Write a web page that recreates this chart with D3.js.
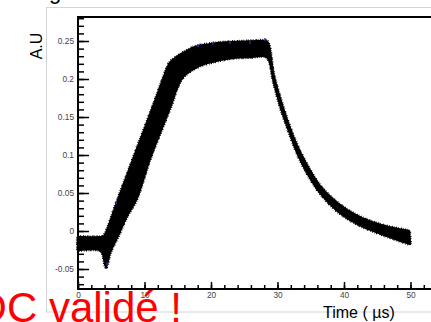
<!DOCTYPE html>
<html><head><meta charset="utf-8">
<script src="https://cdn.jsdelivr.net/npm/d3@7"></script>
<style>html,body{margin:0;padding:0;background:#fff;overflow:hidden}</style>
</head><body>
<svg id="c" width="431" height="322"></svg>
<script>
// Upper envelope of the recorded signal band (time in µs, amplitude in A.U)
const upperT = [0, 3.61, 3.91, 6.02, 8.72, 11.58, 12.78, 13.83, 14.89, 15.79, 17.59, 20.90, 24.81, 28.12, 28.42, 28.72, 29.32, 30.38, 31.58, 32.93, 34.44, 36.39, 38.95, 41.95, 45.86, 49.77];
const upperV = [-0.008, -0.008, -0.007, 0.041, 0.104, 0.170, 0.199, 0.221, 0.229, 0.234, 0.242, 0.247, 0.249, 0.250, 0.249, 0.243, 0.208, 0.174, 0.142, 0.112, 0.086, 0.059, 0.037, 0.020, 0.007, 0.000];
// Lower envelope of the band
const lowerT = [0, 3.31, 3.76, 4.21, 4.66, 4.96, 6.17, 7.22, 8.72, 10.83, 13.98, 14.89, 15.79, 17.89, 19.85, 23.31, 25.86, 28.42, 29.47, 30.53, 31.73, 33.08, 34.59, 36.54, 39.10, 42.11, 46.02, 49.92];
const lowerV = [-0.025, -0.025, -0.030, -0.047, -0.032, -0.025, -0.003, 0.018, 0.041, 0.096, 0.166, 0.189, 0.203, 0.216, 0.222, 0.228, 0.229, 0.229, 0.196, 0.162, 0.132, 0.101, 0.075, 0.049, 0.026, 0.009, -0.005, -0.017];
// isolated blue samples visible on the band edges
const blueT = [18.05, 20.30, 22.86, 25.86, 28.12, 4.36, 5.75];
const blueV = [0.244, 0.247, 0.248, 0.248, 0.252, -0.043, 0.037];
const xTicks = [0, 10, 20, 30, 40, 50];
const xTickLabels = ["0", "10", "20", "30", "40", "50"];
const yTicks = [-0.05, 0, 0.05, 0.1, 0.15, 0.2, 0.25];
const yTickLabels = ["-0.05", "0", "0.05", "0.1", "0.15", "0.2", "0.25"];

const FONT = "Liberation Sans, Arial, sans-serif";
const svg = d3.select("#c");
const x = d3.scaleLinear().domain([0, 56]).range([78, 78 + 56 * 6.65]);
const y = d3.scaleLinear().domain([-0.0763, 0.2816]).range([289, 17]);

// canvas border (light grey)
svg.append("rect").attr("x", 46.5).attr("y", 7.5).attr("width", 420).attr("height", 304.5)
  .attr("fill", "none").attr("stroke", "#d4d4d4").attr("stroke-width", 1);

// fragment of text above
svg.append("text").attr("x", 49).attr("y", -1).attr("font-family", FONT)
  .attr("font-size", 22).attr("fill", "#000").text("g");

// trace band
const upPts = upperT.map((t, i) => [t, upperV[i]]);
const loPts = lowerT.map((t, i) => [t, lowerV[i]]).reverse();
const line = d3.line().x(d => x(d[0])).y(d => y(d[1])).curve(d3.curveCatmullRom.alpha(0.5));
const bandD = line(upPts) + line(loPts).replace(/^M/, "L") + "Z";
svg.append("path").attr("d", bandD).attr("fill", "#000").attr("stroke", "#000")
  .attr("stroke-width", 2.5).attr("stroke-linejoin", "round");
// noisy edge
svg.append("path").attr("d", bandD).attr("fill", "none").attr("stroke", "#000")
  .attr("stroke-width", 4.2).attr("stroke-dasharray", "1 1.3 0.7 2 1.2 0.9 0.6 1.6");
svg.append("g").selectAll("rect").data(blueT.map((t, i) => [t, blueV[i]])).join("rect")
  .attr("x", d => x(d[0]) - 0.7).attr("y", d => y(d[1]) - 1.5).attr("width", 1.4).attr("height", 3)
  .attr("fill", "#2a2ab0");

// frame
const f = svg.append("g").attr("stroke", "#000").attr("stroke-width", 2).attr("fill", "none");
f.append("line").attr("x1", 78).attr("x2", 431).attr("y1", 17).attr("y2", 17);

// y axis
const yMinor = d3.range(-7, 29).map(i => i / 100);
svg.append("g").attr("transform", "translate(78,0)")
  .call(d3.axisRight(y).tickValues(yMinor).tickSize(6).tickFormat(""))
  .call(g => g.select(".domain").remove());
svg.append("g").attr("transform", "translate(78,0)")
  .call(d3.axisRight(y).tickValues(yTicks).tickSize(11).tickFormat(""))
  .call(g => g.select(".domain").remove());
svg.append("g").attr("transform", "translate(74,0)")
  .call(d3.axisLeft(y).tickValues(yTicks).tickSize(0).tickPadding(0).tickFormat((d, i) => yTickLabels[i]))
  .call(g => g.select(".domain").remove())
  .call(g => g.selectAll("text").attr("font-family", FONT).attr("font-size", 8.3).attr("fill", "#444"));

// x axis
const xMinor = d3.range(0, 57, 2);
svg.append("g").attr("transform", "translate(0,289)")
  .call(d3.axisTop(x).tickValues(xMinor).tickSize(4).tickFormat(""))
  .call(g => g.select(".domain").remove());
svg.append("g").attr("transform", "translate(0,289)")
  .call(d3.axisTop(x).tickValues(xTicks).tickSize(7).tickFormat(""))
  .call(g => g.select(".domain").remove());
svg.append("g").attr("transform", "translate(0,292)")
  .call(d3.axisBottom(x).tickValues(xTicks).tickSize(0).tickPadding(0).tickFormat((d, i) => xTickLabels[i]))
  .call(g => g.select(".domain").remove())
  .call(g => g.selectAll("text").attr("font-family", FONT).attr("font-size", 8.3).attr("fill", "#444"));

svg.selectAll(".tick line").attr("stroke", "#000").attr("stroke-width", 1.5);

f.append("line").attr("x1", 78).attr("x2", 78).attr("y1", 16).attr("y2", 290);
f.append("line").attr("x1", 77).attr("x2", 431).attr("y1", 289).attr("y2", 289);

// axis titles
svg.append("text").attr("transform", "translate(42,46) rotate(-90)").attr("text-anchor", "middle")
  .attr("font-family", FONT).attr("font-size", 16).attr("fill", "#000").text("A.U");
svg.append("text").attr("x", 323).attr("y", 318)
  .attr("font-family", FONT).attr("font-size", 16).attr("fill", "#000").text("Time ( µs)");

// red annotation
svg.append("text").attr("y", 322).attr("font-family", FONT)
  .attr("font-size", 42).attr("fill", "#ff0000").attr("text-anchor", "end").attr("x", 182).text("DC validé !");
</script>
</body></html>
